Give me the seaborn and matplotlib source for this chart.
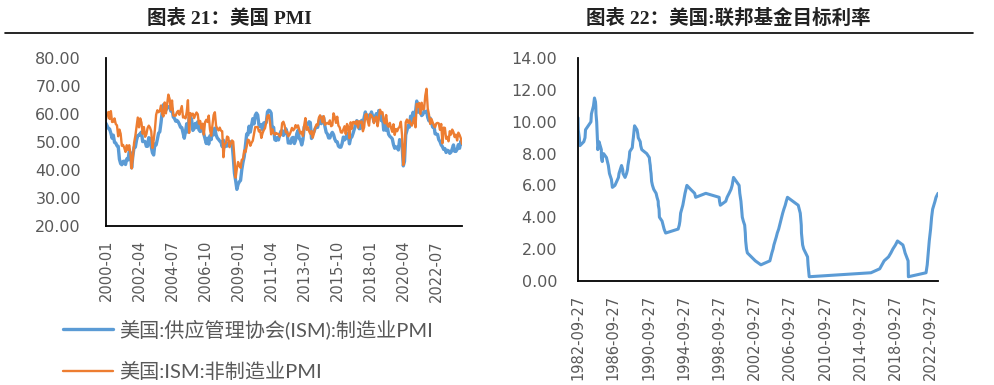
import matplotlib
matplotlib.use("Agg")
import matplotlib.pyplot as plt
from matplotlib.lines import Line2D
import seaborn as sns
import pandas as pd

# ISM manufacturing PMI, monthly from 2000-01
ism_mfg = [
    56.7, 55.8, 54.9, 54.7, 53.2, 51.4, 52.5, 49.9, 49.7, 48.7, 48.5, 43.9,
    42.3, 41.9, 43.1, 43.2, 42.0, 44.0, 43.6, 46.6, 46.2, 40.8, 45.1, 48.2,
    48.2, 50.7, 52.4, 52.4, 53.1, 53.6, 50.2, 50.3, 50.2, 48.5, 48.5, 51.6,
    51.3, 48.4, 46.2, 45.4, 49.4, 49.0, 51.0, 53.2, 53.7, 57.0, 61.0, 63.4,
    63.6, 61.4, 62.5, 62.4, 62.8, 61.1, 62.0, 59.0, 58.5, 57.5, 57.8, 57.3,
    56.4, 55.3, 55.2, 53.3, 51.4, 53.8, 56.6, 53.6, 59.0, 59.1, 58.1, 54.2,
    54.8, 56.7, 55.2, 57.3, 54.4, 53.8, 54.7, 54.5, 52.9, 51.2, 49.5, 51.4,
    49.3, 52.3, 50.9, 54.7, 52.6, 55.0, 52.6, 51.5, 51.0, 50.4, 50.0, 48.4,
    50.7, 48.3, 48.6, 48.6, 49.6, 50.2, 50.0, 49.9, 44.8, 38.9, 36.2, 33.1,
    34.9, 35.8, 36.3, 40.1, 42.8, 44.8, 48.9, 52.9, 52.6, 55.7, 53.6, 55.9,
    58.4, 56.5, 59.6, 60.4, 59.7, 56.2, 55.5, 56.3, 54.4, 56.9, 56.6, 57.0,
    60.8, 61.4, 61.2, 60.4, 53.5, 55.3, 50.9, 50.6, 51.6, 50.8, 52.7, 53.9,
    54.1, 52.4, 53.4, 54.8, 53.5, 49.7, 49.8, 49.6, 51.5, 51.7, 49.5, 50.7,
    53.1, 54.2, 51.3, 50.7, 49.0, 50.9, 55.4, 55.7, 56.2, 56.4, 57.3, 57.0,
    51.3, 53.2, 53.7, 54.9, 55.4, 55.3, 57.1, 59.0, 56.6, 59.0, 58.7, 55.5,
    53.5, 52.9, 51.5, 51.5, 52.8, 53.5, 52.7, 51.1, 50.2, 50.1, 48.6, 48.2,
    48.2, 49.5, 51.8, 50.8, 51.3, 53.2, 52.6, 49.4, 51.5, 51.9, 53.2, 54.7,
    56.0, 57.7, 57.2, 54.8, 54.9, 57.8, 56.3, 58.8, 60.8, 58.7, 58.2, 59.7,
    59.1, 60.8, 59.3, 57.3, 58.7, 60.2, 58.1, 61.3, 59.8, 57.7, 59.3, 54.3,
    56.6, 54.2, 55.3, 52.8, 52.1, 51.7, 51.2, 49.1, 47.8, 48.3, 48.1, 47.2,
    50.9, 50.1, 49.1, 41.5, 43.1, 52.6, 54.2, 56.0, 55.4, 59.3, 57.5, 60.7,
    58.7, 60.8, 64.7, 60.7, 61.2, 60.6, 59.5, 59.9, 61.1, 60.8, 61.1, 58.8,
    57.6, 58.6, 57.1, 55.4, 56.1, 53.0, 52.8, 52.8, 50.9, 50.2, 49.0, 48.4,
    47.4, 47.7, 46.3, 47.1, 46.9, 46.0, 46.4, 47.6, 49.0, 46.7, 46.7, 47.4,
    49.1, 47.8, 50.3, 49.2,
]

# ISM non-manufacturing PMI, monthly from 2000-01
ism_nonmfg = [
    58.2, 59.9, 60.8, 58.3, 61.1, 57.2, 57.3, 58.5, 56.5, 56.0, 52.1, 54.5,
    53.0, 48.7, 49.0, 47.9, 46.5, 48.9, 47.2, 48.9, 46.0, 40.6, 44.7, 49.8,
    52.2, 55.5, 58.8, 55.3, 58.5, 57.0, 53.0, 55.4, 51.9, 52.8, 55.0, 55.9,
    55.2, 53.9, 47.9, 50.7, 54.5, 59.8, 61.4, 60.7, 61.2, 63.1, 60.0, 59.2,
    64.2, 60.3, 63.8, 67.0, 65.5, 61.6, 64.9, 59.6, 59.4, 59.5, 60.7, 61.2,
    59.8, 61.3, 62.9, 58.8, 59.1, 58.5, 60.8, 65.0, 53.3, 60.4, 59.6, 60.2,
    58.6, 59.8, 60.6, 60.0, 56.6, 57.6, 54.9, 56.6, 52.7, 57.2, 58.0, 57.2,
    59.5, 54.6, 52.3, 56.0, 59.7, 60.7, 55.9, 54.8, 54.2, 55.2, 54.1, 53.9,
    44.6, 49.3, 49.6, 52.0, 51.7, 48.2, 49.5, 50.6, 50.2, 44.4, 37.3, 40.6,
    42.9, 41.6, 40.8, 43.7, 44.0, 47.0, 46.4, 48.4, 50.9, 50.6, 48.7, 49.8,
    50.5, 53.0, 55.4, 55.4, 55.4, 53.8, 54.3, 51.5, 53.2, 54.3, 55.0, 57.1,
    59.4, 59.7, 57.3, 52.8, 54.6, 53.3, 52.7, 53.3, 53.0, 52.9, 52.0, 52.6,
    56.8, 57.3, 56.0, 53.5, 53.7, 52.1, 52.6, 53.7, 55.1, 54.2, 54.7, 56.1,
    55.2, 56.0, 54.4, 53.1, 53.7, 52.2, 56.0, 58.6, 54.4, 55.4, 53.9, 53.0,
    54.0, 51.6, 53.1, 55.2, 56.3, 56.0, 58.7, 59.6, 58.6, 57.1, 59.3, 56.2,
    56.7, 56.9, 56.5, 57.8, 55.7, 56.0, 60.3, 59.0, 56.9, 59.1, 55.9, 55.3,
    53.5, 53.4, 54.5, 55.7, 52.9, 56.5, 55.5, 51.4, 57.1, 54.8, 57.2, 57.2,
    56.5, 57.6, 55.2, 57.5, 56.9, 57.4, 53.9, 55.3, 59.8, 60.1, 57.4, 55.9,
    59.9, 59.5, 58.8, 56.8, 58.6, 59.1, 55.7, 58.5, 61.6, 60.3, 60.7, 57.6,
    56.7, 59.7, 56.1, 55.5, 56.9, 55.1, 53.7, 56.4, 52.6, 54.7, 53.9, 55.0,
    55.5, 57.3, 52.5, 41.8, 45.4, 57.1, 58.1, 56.9, 57.8, 56.6, 55.9, 57.2,
    58.7, 55.3, 63.7, 62.7, 64.0, 60.1, 64.1, 61.7, 61.9, 66.7, 69.1, 62.0,
    59.9, 56.5, 58.3, 57.1, 55.9, 55.3, 56.7, 56.9, 56.7, 54.4, 56.5, 49.6,
    55.2, 55.1, 51.2, 51.9, 50.3, 53.9, 52.7, 54.5, 53.6, 51.8, 52.7, 50.6,
    53.4, 52.6, 51.4, 49.4,
]
pmi_start = "2000-01"

# Fed funds target rate at each change
fed_dates = [
    "1982-09-27", "1982-10-01", "1982-10-07", "1982-11-19", "1982-12-14",
    "1983-05-25", "1983-07-14", "1983-08-04", "1984-03-15", "1984-04-05",
    "1984-06-28", "1984-08-09", "1984-09-20", "1984-10-02", "1984-10-11",
    "1984-11-08", "1984-11-23", "1984-12-07", "1984-12-20", "1984-12-24",
    "1985-01-30", "1985-02-14", "1985-05-20", "1985-05-24", "1985-06-27",
    "1985-07-11", "1985-08-22", "1985-12-18", "1986-03-07", "1986-04-21",
    "1986-07-11", "1986-08-21", "1986-12-04", "1987-04-30", "1987-05-22",
    "1987-09-04", "1987-10-22", "1987-11-04", "1988-01-28", "1988-03-30",
    "1988-05-09", "1988-05-25", "1988-06-22", "1988-07-19", "1988-08-09",
    "1988-11-22", "1988-12-15", "1989-01-05", "1989-02-24", "1989-06-06",
    "1989-07-07", "1989-07-27", "1989-10-18", "1989-11-06", "1989-12-20",
    "1990-07-13", "1990-10-29", "1990-11-13", "1990-12-07", "1990-12-18",
    "1991-01-09", "1991-02-01", "1991-03-08", "1991-04-30", "1991-08-06",
    "1991-09-13", "1991-10-31", "1991-11-06", "1991-12-06", "1991-12-20",
    "1992-04-09", "1992-07-02", "1992-09-04", "1994-02-04", "1994-03-22",
    "1994-04-18", "1994-05-17", "1994-08-16", "1994-11-15", "1995-02-01",
    "1995-07-06", "1995-12-19", "1996-01-31", "1997-03-25", "1998-09-29",
    "1998-10-15", "1998-11-17", "1999-06-30", "1999-08-24", "1999-11-16",
    "2000-02-02", "2000-03-21", "2000-05-16", "2001-01-03", "2001-01-31",
    "2001-03-20", "2001-04-18", "2001-05-15", "2001-06-27", "2001-08-21",
    "2001-09-17", "2001-10-02", "2001-11-06", "2001-12-11", "2002-11-06",
    "2003-06-25", "2004-06-30", "2004-08-10", "2004-09-21", "2004-11-10",
    "2004-12-14", "2005-02-02", "2005-03-22", "2005-05-03", "2005-06-30",
    "2005-08-09", "2005-09-20", "2005-11-01", "2005-12-13", "2006-01-31",
    "2006-03-28", "2006-05-10", "2006-06-29", "2007-09-18", "2007-10-31",
    "2007-12-11", "2008-01-22", "2008-01-30", "2008-03-18", "2008-04-30",
    "2008-10-08", "2008-10-29", "2008-12-16", "2015-12-17", "2016-12-15",
    "2017-03-16", "2017-06-15", "2017-12-14", "2018-03-22", "2018-06-14",
    "2018-09-27", "2018-12-20", "2019-08-01", "2019-09-19", "2019-10-31",
    "2020-03-04", "2020-03-16", "2022-03-17", "2022-05-05", "2022-06-16",
    "2022-07-28", "2022-09-22", "2022-11-03", "2022-12-15", "2023-02-02",
    "2023-03-23", "2023-05-04", "2023-07-27",
]
fed_rate = [
    10.25, 10.0, 9.5, 9.0, 8.5,
    8.75, 9.0, 9.5, 10.0, 10.5,
    11.0, 11.5, 11.25, 11.0, 10.5,
    10.0, 9.5, 9.0, 8.5, 8.25,
    8.5, 8.75, 8.25, 7.75, 7.5,
    7.75, 8.0, 7.75, 7.25, 6.75,
    6.375, 5.875, 6.0, 6.5, 6.75,
    7.25, 7.0, 6.75, 6.5, 6.75,
    7.0, 7.25, 7.5, 7.75, 8.125,
    8.375, 8.75, 9.0, 9.75, 9.5,
    9.25, 9.0, 8.75, 8.5, 8.25,
    8.0, 7.75, 7.5, 7.25, 7.0,
    6.75, 6.25, 6.0, 5.75, 5.5,
    5.25, 5.0, 4.75, 4.5, 4.0,
    3.75, 3.25, 3.0, 3.25, 3.5,
    3.75, 4.25, 4.75, 5.5, 6.0,
    5.75, 5.5, 5.25, 5.5, 5.25,
    5.0, 4.75, 5.0, 5.25, 5.5,
    5.75, 6.0, 6.5, 6.0, 5.5,
    5.0, 4.5, 4.0, 3.75, 3.5,
    3.0, 2.5, 2.0, 1.75, 1.25,
    1.0, 1.25, 1.5, 1.75, 2.0,
    2.25, 2.5, 2.75, 3.0, 3.25,
    3.5, 3.75, 4.0, 4.25, 4.5,
    4.75, 5.0, 5.25, 4.75, 4.5,
    4.25, 3.5, 3.0, 2.25, 2.0,
    1.5, 1.0, 0.25, 0.5, 0.75,
    1.0, 1.25, 1.5, 1.75, 2.0,
    2.25, 2.5, 2.25, 2.0, 1.75,
    1.25, 0.25, 0.5, 1.0, 1.75,
    2.5, 3.25, 4.0, 4.5, 4.75,
    5.0, 5.25, 5.5,
]

legend_labels = ["美国:供应管理协会(ISM):制造业PMI", "美国:ISM:非制造业PMI"]
blue = "#5B9BD5"
orange = "#ED7D31"
grey = "#595959"

sns.set_theme(style="white")
plt.rcParams["font.family"] = ["DejaVu Sans", "Noto Sans CJK SC"]

pmi = pd.DataFrame({
    "idx": range(len(ism_mfg)),
    "mfg": ism_mfg,
    "nonmfg": ism_nonmfg,
})
months = pd.period_range(pmi_start, periods=len(ism_mfg), freq="M").strftime("%Y-%m")

fed = pd.DataFrame({"date": pd.to_datetime(fed_dates), "rate": fed_rate})

fig = plt.figure(figsize=(9.94, 3.85), dpi=100)
ax1 = fig.add_axes([0.1066, 0.413, 0.3582, 0.4356])
ax2 = fig.add_axes([0.5815, 0.2709, 0.3622, 0.5777])

# left: PMI
sns.lineplot(data=pmi, x="idx", y="mfg", color=blue, lw=2.4, ax=ax1, label=legend_labels[0])
sns.lineplot(data=pmi, x="idx", y="nonmfg", color=orange, lw=1.7, ax=ax1, label=legend_labels[1])
ax1.set_xlim(0, len(ism_mfg) - 1)
ax1.set_ylim(20, 80)
ax1.set_yticks(range(20, 81, 10))
ax1.set_yticklabels([f"{v:.2f}" for v in range(20, 81, 10)])
ticks = list(range(0, len(ism_mfg), 27))
ax1.set_xticks(ticks)
ax1.set_xticklabels([months[i] for i in ticks], rotation=90)
ax1.tick_params(axis="y", length=0, pad=18, labelsize=11.5, labelcolor=grey)
ax1.tick_params(axis="x", length=0, pad=10, labelsize=10.5, labelcolor=grey)
ax1.set_xlabel("")
ax1.set_ylabel("")

leg = ax1.legend(loc="upper left", bbox_to_anchor=(0.063, 0.172),
                 bbox_transform=fig.transFigure, frameon=False,
                 prop={"family": ["Lato", "Noto Sans CJK SC"], "size": 14.5},
                 handlelength=2.5, handletextpad=0.3, labelspacing=1.15,
                 borderpad=0, borderaxespad=0)
for t in leg.get_texts():
    t.set_color(grey)

# right: fed funds target rate
sns.lineplot(data=fed, x="date", y="rate", color=blue, lw=2.2, ax=ax2)
ax2.set_xlim(fed["date"].iloc[0], fed["date"].iloc[-1])
ax2.set_ylim(0, 14)
ax2.set_yticks(range(0, 15, 2))
ax2.set_yticklabels([f"{v:.2f}" for v in range(0, 15, 2)])
xt = [pd.Timestamp(1982 + 4 * k, 9, 27) for k in range(11)]
ax2.set_xticks(xt)
ax2.set_xticklabels([d.strftime("%Y-%m-%d") for d in xt], rotation=90)
ax2.tick_params(axis="y", length=0, pad=15, labelsize=11.5, labelcolor=grey)
ax2.tick_params(axis="x", length=0, pad=10, labelsize=10.5, labelcolor=grey)
ax2.set_xlabel("")
ax2.set_ylabel("")

for ax in (ax1, ax2):
    ax.grid(False)
    for side in ("top", "right"):
        ax.spines[side].set_visible(False)
    for side in ("left", "bottom"):
        ax.spines[side].set_color("black")
        ax.spines[side].set_linewidth(1.3)

title_font = ["Liberation Serif", "Noto Sans CJK SC"]
fig.text(0.2304, 0.953, "图表 21：美国 PMI", ha="center", va="center",
         family=title_font, weight="bold", fontsize=14, color="#222222")
fig.text(0.7324, 0.953, "图表 22：美国:联邦基金目标利率", ha="center", va="center",
         family=title_font, weight="bold", fontsize=14, color="#222222")
fig.add_artist(Line2D([0.005, 0.979], [0.914, 0.914], transform=fig.transFigure,
                      color="black", lw=1.2))

fig.savefig("out.png", dpi=100)
